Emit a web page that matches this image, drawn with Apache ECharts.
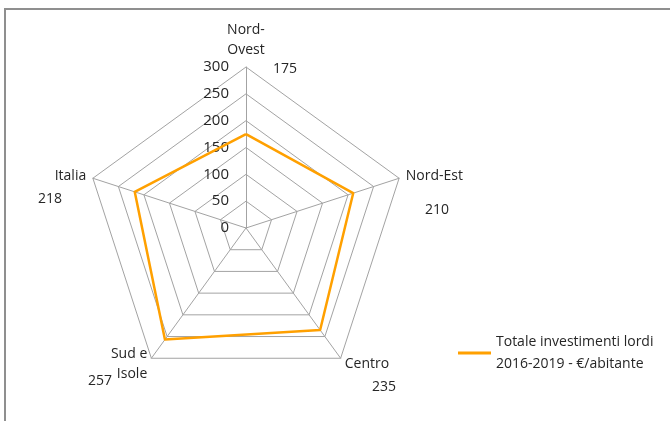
<!DOCTYPE html>
<html>
<head>
<meta charset="utf-8">
<script src="https://cdn.jsdelivr.net/npm/echarts@6/dist/echarts.min.js"></script>
<style>
  html, body { margin: 0; padding: 0; background: #fff; }
  #chart { width: 670px; height: 421px; }
</style>
</head>
<body>
<div id="chart"></div>
<script>
// Investment per inhabitant by macro-area
const areas = ['Nord-\nOvest', 'Nord-Est', 'Centro', 'Sud e\nIsole', 'Italia'];
const investimenti = [175, 210, 235, 257, 218];
const seriesName = 'Totale investimenti lordi\n2016-2019 - €/abitante';
const scaleMax = 300;

// ECharts lays radar axes out counter-clockwise; walk the areas clockwise from the top
const clockwiseOrder = [0, 4, 3, 2, 1];

// where each value caption sits (px), same order as areas
const valueSpots = [[285, 69], [437, 210], [384, 387], [100, 381], [50, 199]];

const FONT = '"Open Sans", sans-serif';
const TEXT = '#262626';
const GRID = '#a3a3a3';

const chart = echarts.init(document.getElementById('chart'), null, { renderer: 'canvas' });

const indicators = clockwiseOrder.map((k, i) => {
  const ind = { name: areas[k], min: 0, max: scaleMax };
  if (i === 0) {
    ind.axisLabel = {
      show: true, color: TEXT, fontFamily: FONT, fontSize: 15, margin: 17
    };
  }
  return ind;
});
const radarValues = clockwiseOrder.map(k => investimenti[k]);

const valueTexts = investimenti.map((v, i) => ({
  type: 'text',
  x: valueSpots[i][0],
  y: valueSpots[i][1],
  style: {
    text: String(v), fill: TEXT, font: '14px ' + FONT,
    align: 'center', verticalAlign: 'middle'
  },
  silent: true
}));

chart.setOption({
  backgroundColor: '#ffffff',
  animation: false,
  legend: {
    left: 458,
    top: 320,
    padding: 0,
    icon: 'rect',
    itemWidth: 33,
    itemHeight: 3,
    textStyle: {
      color: TEXT, fontFamily: FONT, fontSize: 14, lineHeight: 22,
      padding: [22, 0, 0, 0]
    },
    data: [seriesName]
  },
  radar: {
    center: [246, 228],
    radius: 161,
    startAngle: 90,
    splitNumber: 6,
    shape: 'polygon',
    nameGap: 7,
    axisName: { color: TEXT, fontFamily: FONT, fontSize: 14, lineHeight: 20 },
    axisLine: { lineStyle: { color: GRID, width: 1 } },
    splitLine: { lineStyle: { color: GRID, width: 1 } },
    splitArea: { show: false },
    axisTick: { show: false },
    indicator: indicators
  },
  series: [{
    type: 'radar',
    name: seriesName,
    symbol: 'none',
    lineStyle: { color: '#FFA000', width: 2.5 },
    itemStyle: { color: '#FFA000' },
    data: [{ name: seriesName, value: radarValues }]
  }],
  graphic: [
    {
      type: 'rect',
      shape: { x: 5, y: 9, width: 720, height: 460 },
      style: { fill: 'none', stroke: '#8f8f8f', lineWidth: 2 },
      silent: true
    }
  ].concat(valueTexts)
});
</script>
</body>
</html>
